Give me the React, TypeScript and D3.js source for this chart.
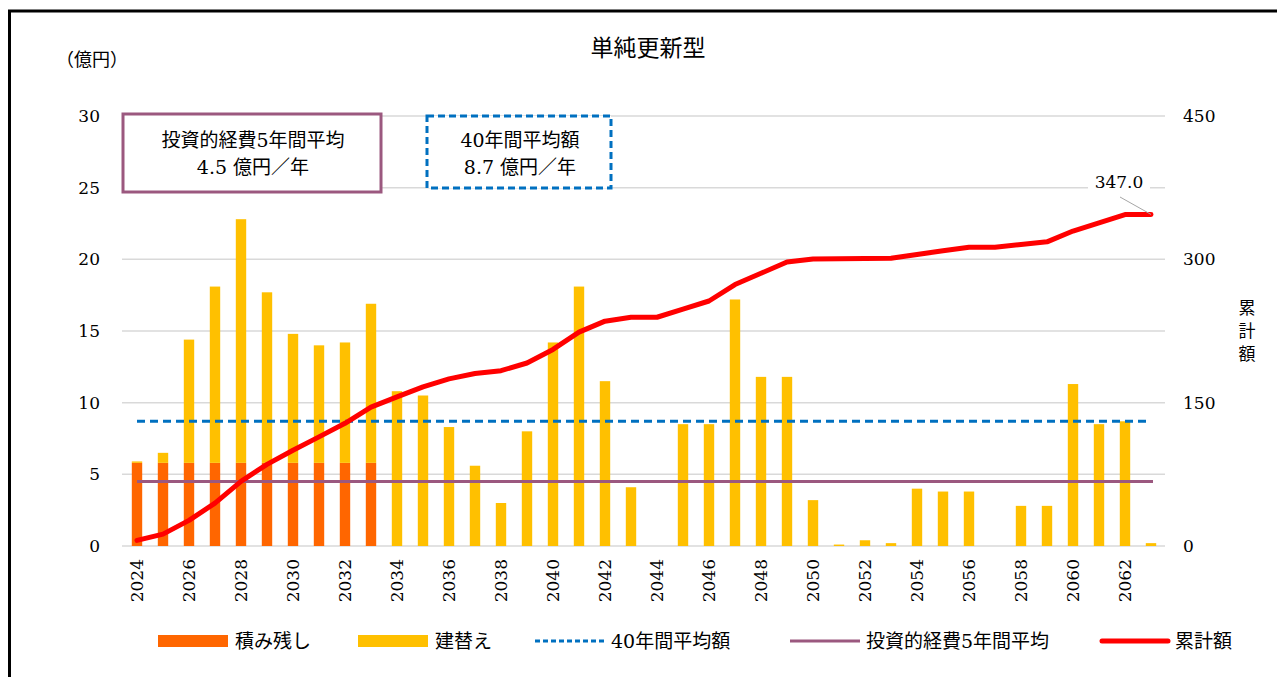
import * as d3 from "d3";

const years = d3.range(2024, 2064);

// 積み残し (億円)
const backlog = [5.8, 5.8, 5.8, 5.8, 5.8, 5.8, 5.8, 5.8, 5.8, 5.8];

// 建替え (億円)
const rebuild = [
  0.1, 0.7, 8.6, 12.3, 17.0, 11.9, 9.0, 8.2, 8.4, 11.1,
  10.8, 10.5, 8.3, 5.6, 3.0, 8.0, 14.2, 18.1, 11.5, 4.1,
  0, 8.5, 8.5, 17.2, 11.8, 11.8, 3.2, 0.1, 0.4, 0.2,
  4.0, 3.8, 3.8, 0, 2.8, 2.8, 11.3, 8.5, 8.7, 0.2,
];

const avg40 = 8.7;
const avg5 = 4.5;
const leftTicks = [0, 5, 10, 15, 20, 25, 30];
const rightTicks = [0, 150, 300, 450];

const C_BACKLOG = "#ff6600";
const C_REBUILD = "#ffc000";
const C_AVG40 = "#0070c0";
const C_AVG5 = "#9b587f";
const C_CUM = "#ff0000";
const C_GRID = "#d9d9d9";

const SERIF = { fontFamily: '"DejaVu Serif", "Liberation Serif", "Noto Sans CJK JP", serif' };
const GOTHIC = { fontFamily: '"Noto Sans CJK JP", sans-serif' };

export default function App() {
  const W = 1277;
  const H = 677;
  const x = d3.scaleBand<number>().domain(years).range([124, 1164]).padding(0);
  const y = d3.scaleLinear().domain([0, 30]).range([546, 116]);
  const y2 = d3.scaleLinear().domain([0, 450]).range([546, 116]);
  const cx = (yr: number) => (x(yr) ?? 0) + x.bandwidth() / 2;
  const bw = x.bandwidth() * 0.4;

  const totals = years.map((_, i) => (backlog[i] ?? 0) + rebuild[i]);
  const cum = d3.cumsum(totals);
  const last = cum[cum.length - 1];

  const line = d3
    .line<number>()
    .x((_, i) => cx(years[i]))
    .y((d) => y2(d));

  const x0 = cx(years[0]);
  const x1 = cx(years[years.length - 1]);

  return (
    <div style={{ position: "absolute", left: 0, top: 0 }}>
      <svg width={W} height={H} viewBox={`0 0 ${W} ${H}`} style={{ display: "block", background: "#fff" }}>
        {/* frame */}
        <rect x={9.5} y={11} width={1300} height={700} fill="none" stroke="#000" strokeWidth={3} />

        <text x={648} y={48} dy="0.35em" textAnchor="middle" style={GOTHIC} fontSize={23}>
          単純更新型
        </text>
        <text x={92} y={60} dy="0.35em" textAnchor="middle" style={{ ...GOTHIC, fontFeatureSettings: '"fwid"' }} fontSize={18}>
          （億円）
        </text>

        {/* grid */}
        {leftTicks.map((t) => (
          <line key={t} x1={122} x2={1165} y1={y(t)} y2={y(t)} stroke={C_GRID} strokeWidth={1.5} />
        ))}
        {leftTicks.map((t) => (
          <text key={"l" + t} x={100} y={y(t)} dy="0.35em" textAnchor="end" style={SERIF} fontSize={17}>
            {t}
          </text>
        ))}
        {rightTicks.map((t) => (
          <text key={"r" + t} x={1183} y={y2(t)} dy="0.35em" style={SERIF} fontSize={17}>
            {t}
          </text>
        ))}
        {["累", "計", "額"].map((ch, i) => (
          <text key={ch} x={1247} y={308 + i * 23} dy="0.35em" textAnchor="middle" style={GOTHIC} fontSize={17}>
            {ch}
          </text>
        ))}

        {/* bars */}
        {years.map((yr, i) => {
          const b = backlog[i] ?? 0;
          const r = rebuild[i];
          return (
            <g key={yr}>
              {b > 0 && (
                <rect x={cx(yr) - bw / 2} y={y(b)} width={bw} height={y(0) - y(b)} fill={C_BACKLOG} />
              )}
              {r > 0 && (
                <rect x={cx(yr) - bw / 2} y={y(b + r)} width={bw} height={y(b) - y(b + r)} fill={C_REBUILD} />
              )}
            </g>
          );
        })}

        {/* x labels */}
        {years
          .filter((yr) => (yr - 2024) % 2 === 0)
          .map((yr) => (
            <text
              key={yr}
              transform={`translate(${cx(yr)},559) rotate(-90)`}
              dy="0.35em"
              textAnchor="end"
              style={SERIF}
              fontSize={17}
            >
              {yr}
            </text>
          ))}

        {/* average lines */}
        <line x1={x0} x2={x1} y1={y(avg40)} y2={y(avg40)} stroke={C_AVG40} strokeWidth={3} strokeDasharray="8 5" />
        <line x1={x0} x2={x1 + 2} y1={y(avg5)} y2={y(avg5)} stroke={C_AVG5} strokeWidth={3} />

        {/* cumulative */}
        <path d={line(cum) ?? ""} fill="none" stroke={C_CUM} strokeWidth={5} strokeLinejoin="round" strokeLinecap="round" />
        <line x1={1120} y1={197} x2={x1} y2={y2(last)} stroke="#a6a6a6" strokeWidth={1} />
        <rect x={1088} y={170} width={62} height={24} fill="#fff" />
        <text x={1119} y={182} dy="0.35em" textAnchor="middle" style={SERIF} fontSize={17}>
          {last.toFixed(1)}
        </text>

        {/* annotation boxes */}
        <rect x={123} y={114} width={258} height={78} fill="#fff" stroke={C_AVG5} strokeWidth={3} />
        <text x={253} y={140} dy="0.35em" textAnchor="middle" style={SERIF} fontSize={19}>
          投資的経費5年間平均
        </text>
        <text x={253} y={167} dy="0.35em" textAnchor="middle" style={SERIF} fontSize={19}>
          {avg5} 億円／年
        </text>
        <rect x={427} y={116} width={184} height={72} fill="#fff" stroke={C_AVG40} strokeWidth={3} strokeDasharray="7 4" />
        <text x={520} y={140} dy="0.35em" textAnchor="middle" style={SERIF} fontSize={19}>
          40年間平均額
        </text>
        <text x={520} y={167} dy="0.35em" textAnchor="middle" style={SERIF} fontSize={19}>
          {avg40} 億円／年
        </text>

        {/* legend */}
        <g style={SERIF} fontSize={19}>
          <rect x={158} y={635} width={70} height={12} fill={C_BACKLOG} />
          <text x={235} y={641} dy="0.35em">積み残し</text>
          <rect x={358} y={635} width={70} height={12} fill={C_REBUILD} />
          <text x={435} y={641} dy="0.35em">建替え</text>
          <line x1={535} x2={605} y1={641} y2={641} stroke={C_AVG40} strokeWidth={3} strokeDasharray="5 3" />
          <text x={611} y={641} dy="0.35em">40年間平均額</text>
          <line x1={790} x2={860} y1={641} y2={641} stroke={C_AVG5} strokeWidth={3} />
          <text x={866} y={641} dy="0.35em">投資的経費5年間平均</text>
          <line x1={1102} x2={1168} y1={641} y2={641} stroke={C_CUM} strokeWidth={5} strokeLinecap="round" />
          <text x={1175} y={641} dy="0.35em">累計額</text>
        </g>
      </svg>
    </div>
  );
}
